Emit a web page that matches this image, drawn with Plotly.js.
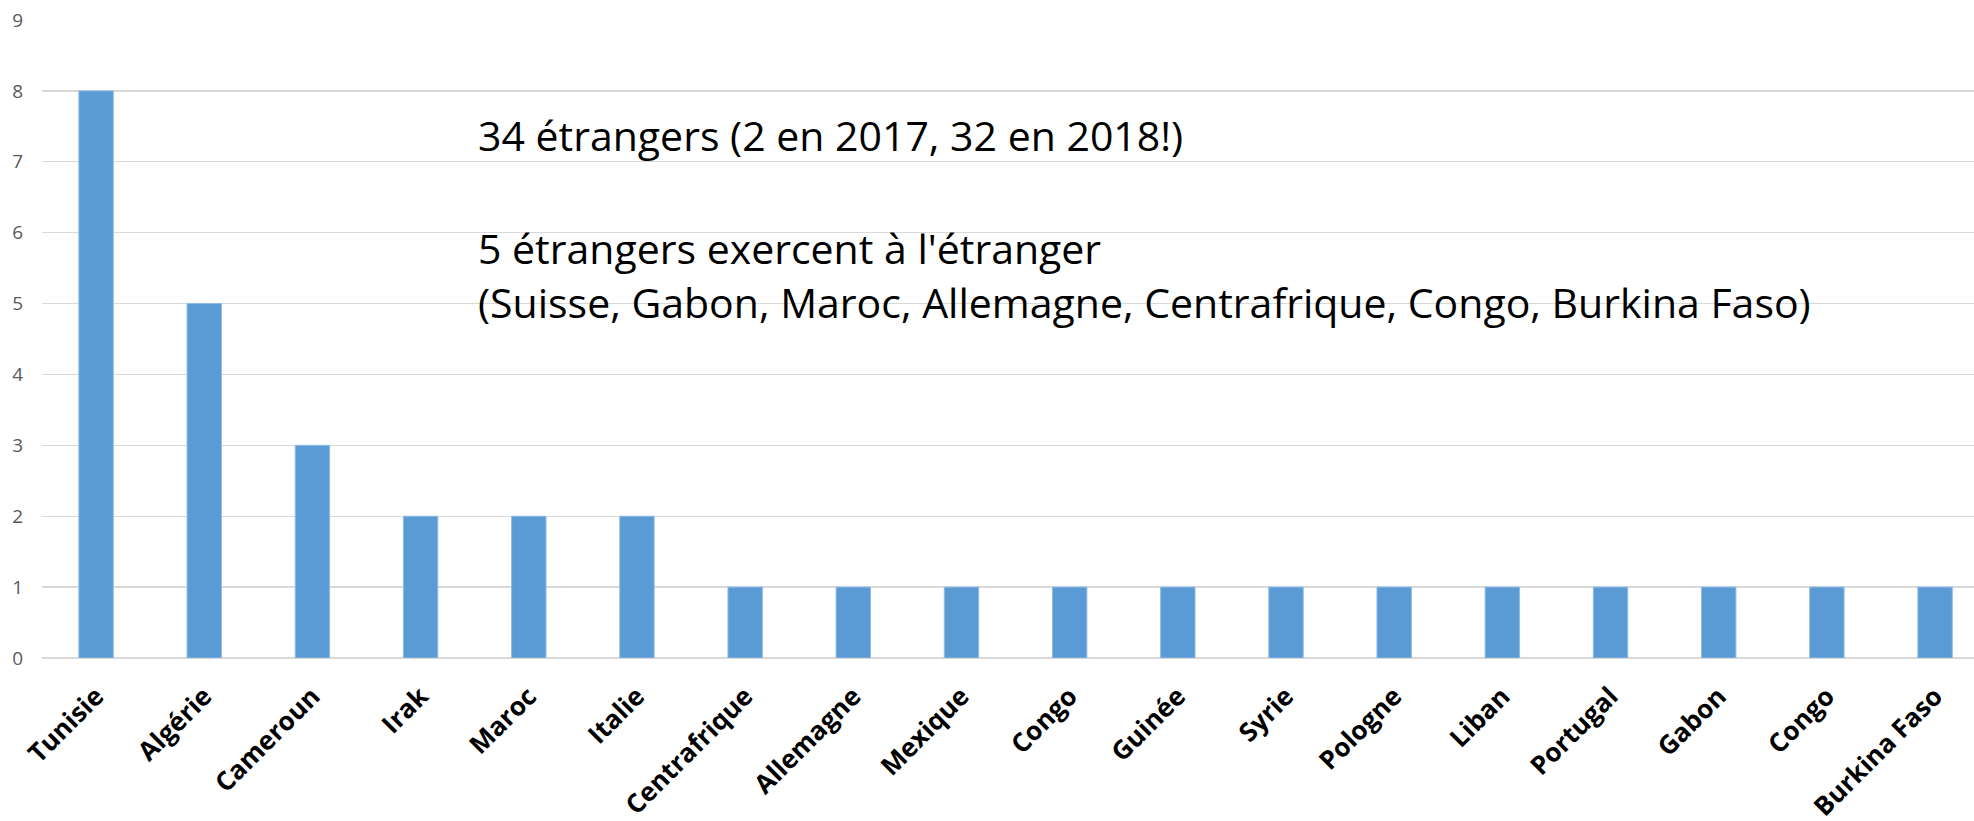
<!DOCTYPE html>
<html>
<head>
<meta charset="utf-8">
<script src="https://cdn.plot.ly/plotly-3.0.1.min.js"></script>
<style>html,body{margin:0;padding:0;background:#fff;}#chart{width:1974px;height:821px;}</style>
</head>
<body>
<div id="chart"></div>
<script>
const categories = ["Tunisie","Algérie","Cameroun","Irak","Maroc","Italie","Centrafrique","Allemagne","Mexique","Congo","Guinée","Syrie","Pologne","Liban","Portugal","Gabon","Congo","Burkina Faso"];
const values = [8,5,3,2,2,2,1,1,1,1,1,1,1,1,1,1,1,1];
const yTicks = [0,1,2,3,4,5,6,7,8,9];
const noteLines = [
  "34 étrangers (2 en 2017, 32 en 2018!)",
  "5 étrangers exercent à l'étranger",
  "(Suisse, Gabon, Maroc, Allemagne, Centrafrique, Congo, Burkina Faso)"
];

const idx = categories.map((_, i) => i);

const trace = {
  type: 'bar',
  x: idx,
  y: values,
  marker: {color: '#5b9bd5', line: {color: '#8fbbe6', width: 1}},
  hoverinfo: 'none'
};

const noteY = [7.38, 5.79, 5.02];
const annotations = noteLines.map((t, i) => ({
  text: t, x: 3.51, y: noteY[i], xref: 'x', yref: 'y',
  xanchor: 'left', yanchor: 'middle', showarrow: false,
  font: {family: '"Open Sans", sans-serif', size: 41, color: '#000000'}
}));

const layout = {
  width: 1974, height: 821,
  margin: {l: 42, r: 0, t: 20, b: 163, pad: 0},
  paper_bgcolor: '#ffffff', plot_bgcolor: '#ffffff',
  showlegend: false,
  bargap: 0.682,
  xaxis: {
    range: [-0.5, 17.36],
    tickvals: idx, ticktext: categories,
    tickangle: -45,
    tickfont: {family: '"Open Sans", sans-serif', size: 26, color: '#000000', weight: 'bold'},
    showgrid: false, zeroline: false,
    showline: false, ticks: '',
    ticklabelstandoff: 17,
    fixedrange: true
  },
  yaxis: {
    range: [0, 9],
    tickvals: yTicks,
    tickfont: {family: '"Open Sans", sans-serif', size: 19, color: '#595959'},
    showgrid: true, gridcolor: '#d9d9d9', gridwidth: 1.3,
    zeroline: true, zerolinecolor: '#d9d9d9', zerolinewidth: 2,
    showline: false, ticks: '',
    ticklabelstandoff: 18,
    fixedrange: true
  },
  annotations: annotations
};

Plotly.newPlot('chart', [trace], layout, {displayModeBar: false, staticPlot: true});
</script>
</body>
</html>
